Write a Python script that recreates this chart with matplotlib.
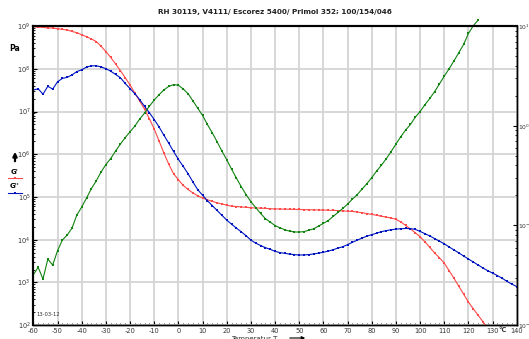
import matplotlib
matplotlib.use("Agg")
import matplotlib.pyplot as plt
from matplotlib.ticker import MultipleLocator, LogLocator, NullFormatter
from matplotlib.lines import Line2D

title = "RH 30119, V4111/ Escorez 5400/ Primol 352; 100/154/046"

# temperature in degC, one reading every 2 K
temp = list(range(-60, 142, 2))

# G' (Pa), storage modulus - ends below the axis near 128 degC
g1 = [9.6e8, 9.5e8, 9.3e8, 9.1e8, 9.0e8, 8.7e8, 8.4e8, 8.1e8, 7.5e8, 7.0e8,
      6.3e8, 5.65e8, 5.0e8, 4.36e8, 3.4e8, 2.53e8, 1.85e8, 1.31e8, 9.1e7, 6.2e7,
      4.2e7, 2.7e7, 1.75e7, 1.14e7, 6.8e6, 3.9e6, 2.05e6, 1.07e6, 5.9e5, 3.5e5,
      2.54e5, 1.86e5, 1.5e5, 1.24e5, 1.07e5, 9.4e4, 8.6e4, 7.9e4, 7.3e4, 6.9e4,
      6.4e4, 6.1e4, 5.97e4, 5.85e4, 5.7e4, 5.6e4, 5.53e4, 5.48e4, 5.4e4, 5.3e4,
      5.25e4, 5.22e4, 5.19e4, 5.16e4, 5.13e4, 5.1e4, 5.05e4, 5.02e4, 4.99e4, 4.96e4,
      4.93e4, 4.9e4, 4.85e4, 4.8e4, 4.72e4, 4.65e4, 4.58e4, 4.44e4, 4.28e4, 4.09e4,
      3.9e4, 3.72e4, 3.54e4, 3.38e4, 3.22e4, 3.0e4, 2.6e4, 2.15e4, 1.78e4, 1.45e4,
      1.17e4, 8.9e3, 6.6e3, 4.9e3, 3.76e3, 2.82e3, 1.87e3, 1.25e3, 810, 530,
      345, 240, 170, 120, 85]

# G'' (Pa), loss modulus
g2 = [3.2e7, 3.4e7, 2.55e7, 3.9e7, 3.35e7, 4.97e7, 5.96e7, 6.32e7, 7.2e7, 8.6e7,
      9.5e7, 1.1e8, 1.17e8, 1.18e8, 1.11e8, 1.01e8, 8.8e7, 7.4e7, 6.2e7, 4.55e7,
      3.44e7, 2.61e7, 1.9e7, 1.32e7, 9.4e6, 6.5e6, 4.37e6, 2.8e6, 1.82e6, 1.16e6,
      7.6e5, 5.2e5, 3.5e5, 2.25e5, 1.48e5, 1.1e5, 8.2e4, 6.3e4, 4.84e4, 3.73e4,
      2.87e4, 2.31e4, 1.86e4, 1.53e4, 1.24e4, 9.76e3, 8.3e3, 7.3e3, 6.5e3, 5.94e3,
      5.33e3, 4.98e3, 4.79e3, 4.59e3, 4.47e3, 4.37e3, 4.39e3, 4.49e3, 4.63e3, 4.84e3,
      5.08e3, 5.39e3, 5.82e3, 6.34e3, 6.84e3, 7.66e3, 8.67e3, 9.76e3, 1.09e4, 1.21e4,
      1.31e4, 1.42e4, 1.54e4, 1.63e4, 1.7e4, 1.77e4, 1.8e4, 1.83e4, 1.82e4, 1.74e4,
      1.56e4, 1.38e4, 1.22e4, 1.06e4, 9.2e3, 8.0e3, 6.76e3, 5.75e3, 4.9e3, 4.14e3,
      3.52e3, 3.0e3, 2.55e3, 2.17e3, 1.87e3, 1.65e3, 1.44e3, 1.24e3, 1.05e3, 906,
      796]

# tan delta (right axis), runs out of the top near 124 degC
tand = [0.032, 0.038, 0.029, 0.046, 0.04, 0.0557, 0.0713, 0.08, 0.094, 0.127,
        0.153, 0.188, 0.234, 0.279, 0.343, 0.408, 0.469, 0.557, 0.655, 0.76,
        0.869, 0.993, 1.17, 1.34, 1.57, 1.81, 2.05, 2.29, 2.48, 2.59,
        2.55, 2.34, 2.1, 1.78, 1.5, 1.27, 1.03, 0.851, 0.692, 0.557,
        0.456, 0.367, 0.299, 0.245, 0.204, 0.173, 0.151, 0.132, 0.117, 0.108,
        0.0996, 0.0947, 0.0906, 0.0877, 0.0861, 0.0857, 0.0869, 0.0894, 0.0927, 0.0985,
        0.105, 0.112, 0.123, 0.135, 0.148, 0.164, 0.184, 0.204, 0.232, 0.263,
        0.302, 0.351, 0.403, 0.467, 0.551, 0.655, 0.778, 0.906, 1.03, 1.22,
        1.39, 1.63, 1.88, 2.2, 2.63, 3.15, 3.74, 4.48, 5.41, 6.56,
        8.45, 10.1, 11.5]

x_ticks = list(range(-60, 141, 10))

red = "#ff4a4a"
blue = "#0014c0"
green = "#118311"

fig = plt.figure(figsize=(5.29, 3.39), dpi=100)
ax = fig.add_axes([0.063, 0.041, 0.914, 0.882])
ax2 = ax.twinx()

style = dict(lw=0.8, marker="s", ms=2.0, mew=0)
ax.plot(temp[:len(g1)], g1, color=red, zorder=3, **style)
ax.plot(temp[:len(g2)], g2, color=blue, zorder=3, **style)
ax2.plot(temp[:len(tand)], tand, color=green, clip_on=False, **style)

ax.set_xlim(-60, 140)
ax.set_yscale("log")
ax.set_ylim(1e2, 1e9)
ax2.set_yscale("log")
ax2.set_ylim(1e-2, 1e1)

ax.set_xticks(x_ticks)
ax.set_xticklabels([str(t) for t in x_ticks])
ax.xaxis.set_minor_locator(MultipleLocator(2))
ax.yaxis.set_major_locator(LogLocator(base=10, numticks=20))
ax.yaxis.set_minor_locator(LogLocator(base=10, subs=range(2, 10), numticks=20))
ax.yaxis.set_minor_formatter(NullFormatter())
ax2.yaxis.set_minor_locator(LogLocator(base=10, subs=range(2, 10), numticks=20))
ax2.yaxis.set_minor_formatter(NullFormatter())

ax.grid(True, which="major", color="#d4d4d4", lw=1.3)
ax.set_axisbelow(True)

for a in (ax, ax2):
    a.tick_params(which="major", direction="in", length=3, width=0.8,
                  labelsize=4.8, pad=2, colors="black", labelcolor="#333333")
    a.tick_params(which="minor", direction="in", length=1.5, width=0.6)
    for s in a.spines.values():
        s.set_linewidth(1.0)
    a.spines["top"].set_linewidth(1.5)
    a.spines["left"].set_linewidth(1.5)
ax2.tick_params(axis="y", labelsize=4.3, pad=1)

fig.text(0.519, 0.965, title, ha="center", va="center", fontsize=5.2,
         fontweight="bold", color="#222222")
fig.text(0.027, 0.858, "Pa", ha="center", va="center", fontsize=5.5,
         fontweight="bold")
fig.text(0.092, 0.071, "13-03-12", ha="center", va="center", fontsize=3.8,
         color="#333333")
fig.text(0.95, 0.026, "°C", ha="center", va="center", fontsize=4.8,
         fontweight="bold", color="#333333")
fig.text(0.48, 0.0, "Temperatur T", ha="center", va="center", fontsize=5,
         color="#333333")

# small legend at the left edge
ax.annotate("", xy=(15, 339 - 149), xytext=(15, 339 - 164),
            xycoords="figure pixels",
            arrowprops=dict(arrowstyle="-|>", color="black", lw=1.6,
                            mutation_scale=6))
ax.annotate("", xy=(308, 1), xytext=(287, 1), xycoords="figure pixels",
            arrowprops=dict(arrowstyle="-|>", color="black", lw=0.8,
                            mutation_scale=5))
fig.text(0.027, 0.493, "G'", ha="center", va="center", fontsize=5,
         fontweight="bold")
fig.text(0.027, 0.451, "G''", ha="center", va="center", fontsize=5,
         fontweight="bold")
fig.add_artist(Line2D([0.015, 0.028, 0.042], [0.475, 0.475, 0.475],
                      transform=fig.transFigure, color=red, lw=0.8,
                      marker="s", ms=2.0, mew=0, markevery=[1]))
fig.add_artist(Line2D([0.015, 0.028, 0.042], [0.431, 0.431, 0.431],
                      transform=fig.transFigure, color=blue, lw=0.8,
                      marker="s", ms=2.0, mew=0, markevery=[1]))

fig.savefig("out.png", dpi=100)
